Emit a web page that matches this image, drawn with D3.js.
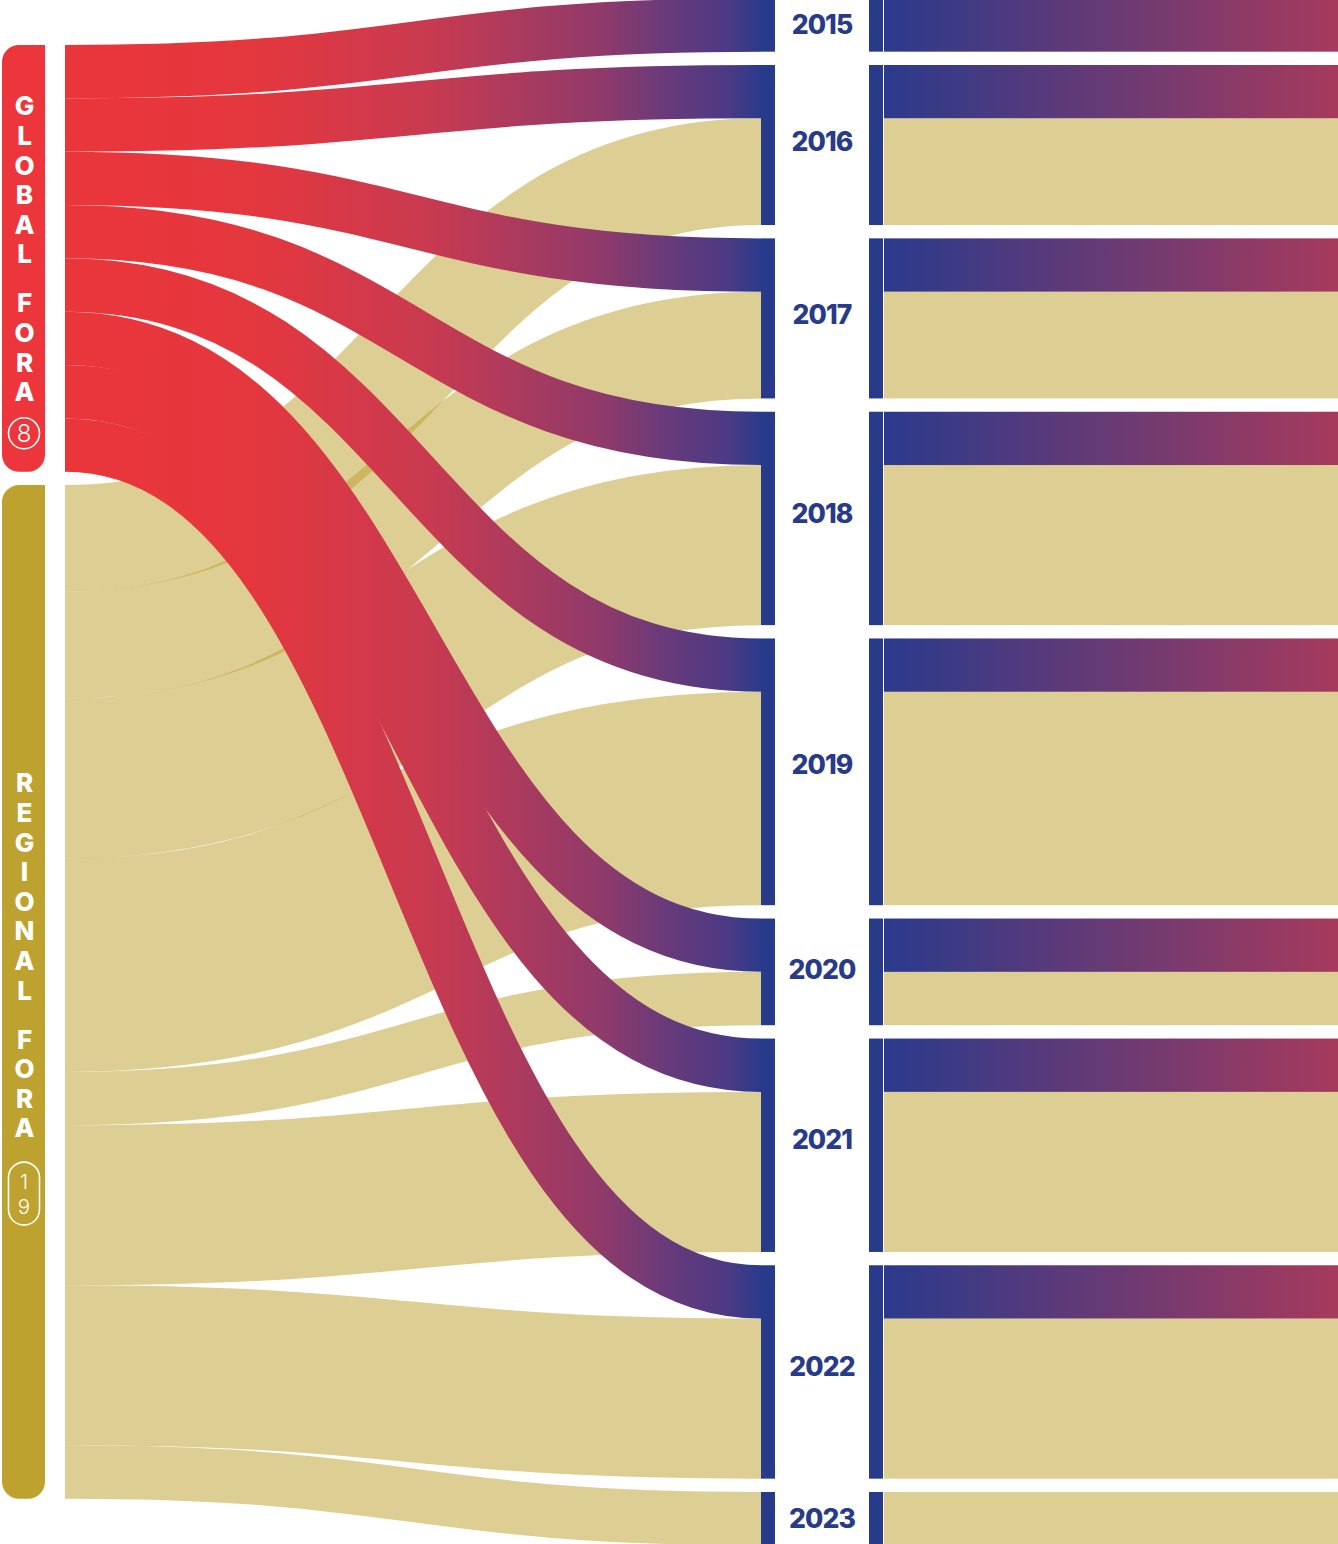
<!DOCTYPE html>
<html>
<head>
<meta charset="utf-8">
<script src="https://cdn.jsdelivr.net/npm/d3@7"></script>
<style>
  html, body { margin: 0; padding: 0; background: #fff; }
  svg { display: block; }
</style>
</head>
<body>
<svg id="chart" width="1338" height="1544"></svg>
<script>
// ---------------- DATA ----------------
const years = ["2015", "2016", "2017", "2018", "2019", "2020", "2021", "2022", "2023"];
const globalFora   = [1, 1, 1, 1, 1, 1, 1, 1, 0];
const regionalFora = [0, 2, 2, 3, 4, 1, 3, 3, 1];
const sourceNames  = ["GLOBAL FORA", "REGIONAL FORA"];
const sourceCounts = ["8", "19"];

// ---------------- LAYOUT ----------------
const W = 1338, H = 1544;
const yTop = -1.67, yBot = 1545.33, gap = 13.33;
const leftX0 = 2, leftX1 = 45;
const linkX0 = 65, linkX1 = 761;
const bar1X0 = 761, bar1X1 = 775, bar2X0 = 869, bar2X1 = 883;
const bandX0 = 884, bandX1 = W;
const labelX = (bar1X1 + bar2X0) / 2;

const BLUE = "#283a8a";
const RED = "#ec363b";
const OLIVE = "#bea22f";
const BEIGE_OP = 0.52;

const seriesBySource = [globalFora, regionalFora];
const total = d3.sum(globalFora) + d3.sum(regionalFora);
const unitPx = (yBot - yTop - gap * (years.length - 1)) / total;
const u = d3.scaleLinear().domain([0, 1]).range([0, unitPx]);

// year nodes
const yearNodes = [];
let cy = yTop;
years.forEach((y, i) => {
  const v = globalFora[i] + regionalFora[i];
  yearNodes.push({ name: y, i, y0: cy, y1: cy + u(v), g: globalFora[i], r: regionalFora[i], off: cy });
  cy += u(v) + gap;
});

// source nodes (centered)
const leftTotal = u(total) + gap * (sourceNames.length - 1);
let ly = (yTop + yBot) / 2 - leftTotal / 2;
const srcNodes = sourceNames.map((name, s) => {
  const v = d3.sum(seriesBySource[s]);
  const n = { name, s, y0: ly, y1: ly + u(v), off: ly, count: sourceCounts[s] };
  ly += u(v) + gap;
  return n;
});

// links
const links = [];
srcNodes.forEach((sn, s) => {
  seriesBySource[s].forEach((v, i) => {
    if (v > 0) links.push({ s, i, value: v });
  });
});
links.forEach(l => {
  const sn = srcNodes[l.s];
  l.sy = sn.off + u(l.value) / 2; sn.off += u(l.value);
});
[0, 1].forEach(s => {
  links.filter(l => l.s === s).forEach(l => {
    const tn = yearNodes[l.i];
    l.ty = tn.off + u(l.value) / 2; tn.off += u(l.value);
  });
});

// ---------------- DRAW ----------------
const svg = d3.select("#chart");
const defs = svg.append("defs");

const gLink = defs.append("linearGradient")
  .attr("id", "gLink").attr("gradientUnits", "userSpaceOnUse")
  .attr("x1", linkX0).attr("x2", linkX1).attr("y1", 0).attr("y2", 0);
[[0, "#ea363b"], [0.27, "#e4373e"], [0.52, "#c93a50"], [0.77, "#903a6a"],
 [0.86, "#6a3a7a"], [0.955, "#4a3a84"], [1, "#2a3a8c"]].forEach(([o, c]) =>
  gLink.append("stop").attr("offset", o).attr("stop-color", c));

const gBand = defs.append("linearGradient")
  .attr("id", "gBand").attr("gradientUnits", "userSpaceOnUse")
  .attr("x1", bandX0).attr("x2", bandX1).attr("y1", 0).attr("y2", 0);
gBand.append("stop").attr("offset", 0).attr("stop-color", "#2b3a8c");
gBand.append("stop").attr("offset", 1).attr("stop-color", "#a63a5c");

const linkGen = d3.linkHorizontal()
  .source(d => [linkX0, d.sy])
  .target(d => [linkX1, d.ty]);

// regional links first
svg.append("g").selectAll("path")
  .data(links.filter(l => l.s === 1))
  .join("path")
  .attr("d", linkGen)
  .attr("fill", "none")
  .attr("stroke", OLIVE)
  .attr("stroke-opacity", BEIGE_OP)
  .attr("stroke-width", d => u(d.value));

// global links on top
svg.append("g").selectAll("path")
  .data(links.filter(l => l.s === 0))
  .join("path")
  .attr("d", linkGen)
  .attr("fill", "none")
  .attr("stroke", "url(#gLink)")
  .attr("stroke-width", d => u(d.value));

// right bands
const bands = svg.append("g");
yearNodes.forEach(n => {
  if (n.g > 0) bands.append("rect")
    .attr("x", bandX0).attr("width", bandX1 - bandX0)
    .attr("y", n.y0).attr("height", u(n.g))
    .attr("fill", "url(#gBand)");
  if (n.r > 0) bands.append("rect")
    .attr("x", bandX0).attr("width", bandX1 - bandX0)
    .attr("y", n.y0 + u(n.g)).attr("height", u(n.r))
    .attr("fill", OLIVE).attr("fill-opacity", BEIGE_OP);
});

// year bars + labels
const yg = svg.append("g").selectAll("g").data(yearNodes).join("g");
yg.append("rect").attr("x", bar1X0).attr("width", bar1X1 - bar1X0)
  .attr("y", d => d.y0).attr("height", d => d.y1 - d.y0).attr("fill", BLUE);
yg.append("rect").attr("x", bar2X0).attr("width", bar2X1 - bar2X0)
  .attr("y", d => d.y0).attr("height", d => d.y1 - d.y0).attr("fill", BLUE);
yg.append("text")
  .attr("x", labelX)
  .attr("y", d => (d.y0 + d.y1) / 2 - 0.5 - (d.y1 - d.y0 - unitPx) * 0.03)
  .attr("dy", "0.36em")
  .attr("text-anchor", "middle")
  .attr("font-family", "Inter, Roboto, sans-serif")
  .attr("font-weight", 800)
  .attr("font-size", 26.5)
  .attr("letter-spacing", "-0.9")
  .attr("fill", BLUE)
  .text(d => d.name);

// left nodes
function nodePath(x, y, w, h, r) {
  return `M${x + r},${y}H${x + w}V${y + h - r}A${r},${r} 0 0 1 ${x + w - r},${y + h}` +
         `H${x + r}A${r},${r} 0 0 1 ${x},${y + h - r}V${y + r}A${r},${r} 0 0 1 ${x + r},${y}Z`;
}
const nodeColors = [RED, OLIVE];
const labelStart = [61, 298];   // offset of first letter centre from node top
const pitch = 29.6, wordGap = 49;
const cx = (leftX0 + leftX1) / 2 + 1;

srcNodes.forEach((n, s) => {
  const g = svg.append("g");
  g.append("path")
    .attr("d", nodePath(leftX0, n.y0, leftX1 - leftX0, n.y1 - n.y0, 17))
    .attr("fill", nodeColors[s]);
  let yy = n.y0 + labelStart[s];
  let last = yy;
  n.name.split("").forEach(ch => {
    if (ch === " ") { yy += wordGap - pitch; return; }
    g.append("text")
      .attr("x", cx).attr("y", yy).attr("dy", "0.36em")
      .attr("text-anchor", "middle")
      .attr("font-family", "Inter, Roboto, sans-serif")
      .attr("font-weight", 800).attr("font-size", 26)
      .attr("fill", "#fff").text(ch);
    last = yy;
    yy += pitch;
  });
  const digits = n.count.split("");
  if (digits.length === 1) {
    const by = last + 41.5;
    g.append("circle").attr("cx", cx - 0.5).attr("cy", by).attr("r", 15.5)
      .attr("fill", "none").attr("stroke", "#fff").attr("stroke-width", 1.6);
    g.append("text").attr("x", cx - 0.5).attr("y", by).attr("dy", "0.36em")
      .attr("text-anchor", "middle").attr("font-family", "Inter, Roboto, sans-serif")
      .attr("font-weight", 300).attr("font-size", 24).attr("fill", "#fff").text(n.count);
  } else {
    const ph = 63, top = last + 34;
    g.append("rect").attr("x", cx - 16).attr("y", top).attr("width", 31).attr("height", ph)
      .attr("rx", 15.5).attr("fill", "none").attr("stroke", "#fff").attr("stroke-width", 1.6);
    digits.forEach((dg, k) => {
      g.append("text").attr("x", cx - 0.5).attr("y", top + 19.5 + k * 25)
        .attr("dy", "0.36em")
        .attr("text-anchor", "middle").attr("font-family", "Inter, Roboto, sans-serif")
        .attr("font-weight", 300).attr("font-size", 20.5).attr("fill", "#fff").text(dg);
    });
  }
});
</script>
</body>
</html>
